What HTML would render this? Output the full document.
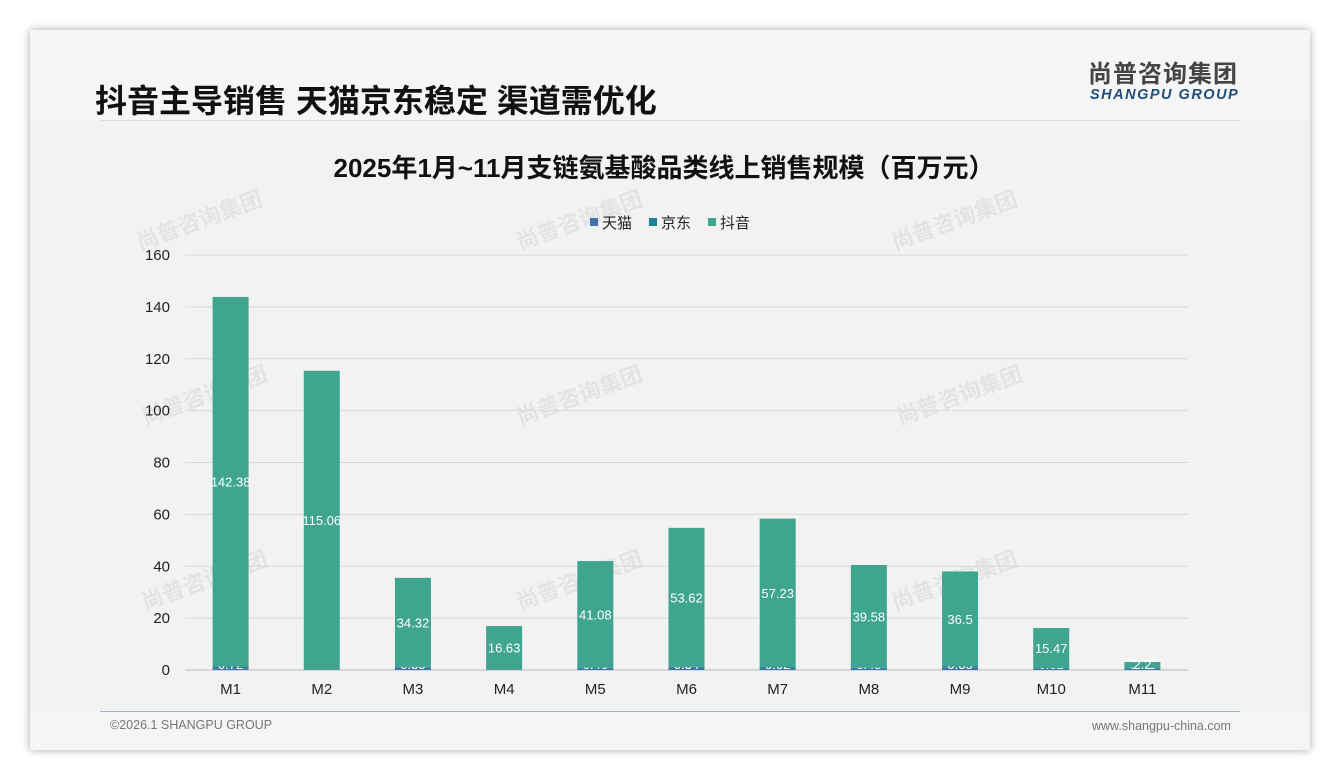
<!DOCTYPE html>
<html><head><meta charset="utf-8"><style>
body{margin:0;width:1340px;height:780px;background:#fff;font-family:"Liberation Sans","Noto Sans CJK SC",sans-serif;position:relative;overflow:hidden}
#card{position:absolute;left:30px;top:30px;width:1280px;height:720px;background:#f5f5f5;box-shadow:0 0 8px rgba(0,0,0,.35)}
#body{position:absolute;left:30px;top:120px;width:1280px;height:592px;background:#f2f2f2}
.t{position:absolute;white-space:nowrap}
</style></head><body>
<div id="card"></div>
<div id="body"></div>
<div class="t" style="left:95px;top:76px;font-size:32px;font-weight:bold;color:#111">抖音主导销售 天猫京东稳定 渠道需优化</div>
<div class="t" style="left:1088px;top:63px;font-size:24px;line-height:24px;font-weight:bold;color:#444;letter-spacing:1px">尚普咨询集团</div>
<div class="t" style="left:1090px;top:87px;font-size:14.5px;line-height:17px;font-weight:bold;font-style:italic;color:#1f4e79;letter-spacing:1.5px">SHANGPU GROUP</div>
<div style="position:absolute;left:100px;top:120px;width:1140px;height:1px;background:#ddd"></div>
<div class="t" style="left:110px;top:718px;font-size:12.5px;color:#777">©2026.1 SHANGPU GROUP</div>
<div class="t" style="left:1092px;top:719px;font-size:12.5px;color:#777">www.shangpu-china.com</div>
<div style="position:absolute;left:100px;top:711px;width:1140px;height:1px;background:#9bb7d4"></div>
<svg id="chart" width="1340" height="780" style="position:absolute;left:0;top:0"></svg>
<script>
const categories=["M1","M2","M3","M4","M5","M6","M7","M8","M9","M10","M11"];
const tmall=[0.73,0.15,0.85,0.15,0.46,0.84,0.53,0.43,0.85,0.38,0.47];
const jd=[0.72,0.15,0.35,0.16,0.46,0.34,0.62,0.48,0.65,0.32,0.42];
const douyin=[142.38,115.06,34.32,16.63,41.08,53.62,57.23,39.58,36.5,15.47,2.2];
const ticks=[0,20,40,60,80,100,120,140,160];
const NS="http://www.w3.org/2000/svg";
const svg=document.getElementById('chart');
const x0=185,x1=1188,yb=670,yt=255,ymax=160;
const step=(x1-x0)/categories.length,bw=36;
const Y=v=>yb-(v/ymax)*(yb-yt);
const X=i=>x0+step*(i+0.5);
function mk(tag,a,txt){const e=document.createElementNS(NS,tag);for(const k in a)e.setAttribute(k,a[k]);if(txt!==undefined)e.textContent=txt;svg.appendChild(e);return e;}
[[140,250],[520,250],[895,250],[145,425],[520,425],[900,425],[145,610],[520,610],[895,610]].forEach(p=>{
 const g=mk('text',{x:p[0],y:p[1],transform:`rotate(-20 ${p[0]} ${p[1]})`,'font-size':22,'font-weight':'bold',fill:'#000','fill-opacity':0.06});
 g.textContent='尚普咨询集团';
});
const ct=mk('text',{x:664,y:177,'text-anchor':'middle','font-size':26,'font-weight':'bold',fill:'#111'},'2025年1月~11月支链氨基酸品类线上销售规模（百万元）');

ticks.forEach(t=>{
 const l=mk('line',{x1:x0,x2:x1,y1:Y(t),y2:Y(t),stroke:t===0?'#bbb':'#d9d9d9','stroke-width':1});
 
 const tx=mk('text',{x:170,y:Y(t)+5,'text-anchor':'end','font-size':15,fill:'#222'},t);
 
});
const cols=['#4472a8','#1f8396','#3fa58f'];
const series=[tmall,jd,douyin],names=['天猫','京东','抖音'];
categories.forEach((c,i)=>{
 let acc=0;
 series.forEach((s,k)=>{
  const v=s[i];const r=mk('rect',{x:X(i)-bw/2,y:Y(acc+v),width:bw,height:Y(acc)-Y(acc+v),fill:cols[k]});
  
  const ly=k===2?(Y(acc)+Y(acc+v))/2+5:yb-1;
  const lb=mk('text',{x:X(i),y:k===2&&v<5?yb-1:ly,'text-anchor':'middle','font-size':13,fill:'#fff'},v);
  
  acc+=v;
 });
 const xl=mk('text',{x:X(i),y:yb+24,'text-anchor':'middle','font-size':15,fill:'#222'},c);
 
});
let lx=590;
names.forEach((n,k)=>{
 const r=mk('rect',{x:lx,y:218,width:8,height:8,fill:cols[k]});
 const t=mk('text',{x:lx+12,y:228,'font-size':15,fill:'#222'},n);
 lx+=59;
});
</script>
</body></html>
